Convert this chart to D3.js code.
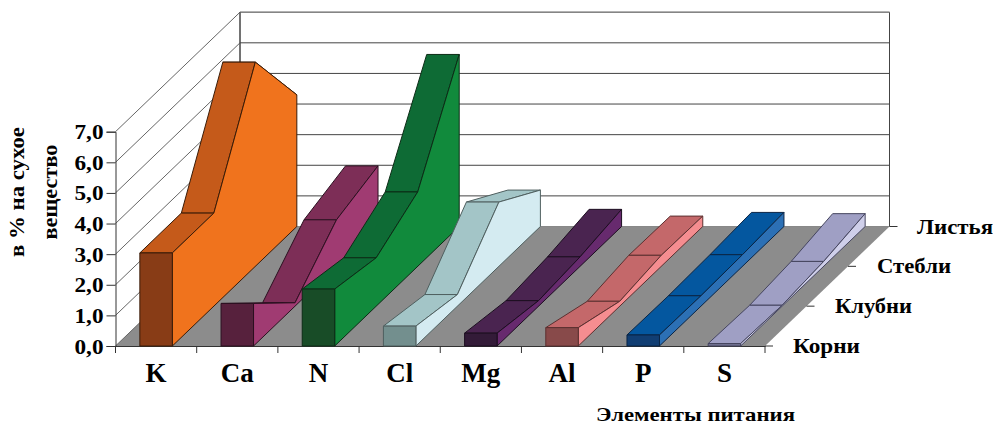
<!DOCTYPE html>
<html>
<head>
<meta charset="utf-8">
<script src="https://cdn.jsdelivr.net/npm/d3@7"></script>
<style>
  body { margin: 0; background: #fff; }
  svg { display: block; }
  text { font-family: "Liberation Serif", serif; font-weight: bold; fill: #000; }
</style>
</head>
<body>
<svg id="chart"></svg>
<script>
const categories = ["K", "Ca", "N", "Cl", "Mg", "Al", "P", "S"];
const seriesNames = ["Корни", "Клубни", "Стебли", "Листья"];

const korni  = [3.04, 1.39, 1.86, 0.65, 0.42, 0.60, 0.36, 0.08];
const klubni = [3.04, 0.11, 1.58, 0.38, 0.18, 0.16, 0.34, 0.03];
const stebli = [6.67, 1.52, 2.43, 2.10, 0.31, 0.36, 0.38, 0.16];
const listya = [4.30, 1.98, 5.62, 1.19, 0.56, 0.34, 0.46, 0.42];
const seriesValues = [korni, klubni, stebli, listya];

const yTicks = [0, 1, 2, 3, 4, 5, 6, 7];

// top, front and side shade of each element
const topColors   = ["#c55a1a", "#7d2e57", "#0e6b35", "#a3c5c7", "#4a2450", "#c4686a", "#04579f", "#9f9fc4"];
const frontColors = ["#883c16", "#57213d", "#184c27", "#738f8e", "#331b38", "#884a4a", "#113e73", "#717190"];
const sideColors  = ["#f0731d", "#a03b72", "#118a3c", "#d4ebf1", "#672a6e", "#f58d90", "#2c70b5", "#cfcfea"];
const edgeColors  = ["#3a1c08", "#2c1020", "#0c2c16", "#4f5f5f", "#1c0e20", "#5c3030", "#0a2545", "#45455f"];

const svgWidth = 993;
const svgHeight = 424;

const svg = d3.select("#chart")
  .attr("width", svgWidth)
  .attr("height", svgHeight);

const xScale = d3.scaleBand()
  .domain(categories)
  .range([115.5, 765])
  .paddingInner(0.6)
  .paddingOuter(0.3);

const yScale = d3.scaleLinear()
  .domain([0, 7])
  .range([346, 131.7]);

// depth moves a point up and to the right
const depthX = d3.scalePoint().domain(seriesNames).range([0, 124.5]);
const depthY = d3.scalePoint().domain(seriesNames).range([0, -119.5]);

const x0 = xScale.range()[0];
const x1 = xScale.range()[1];
const y0 = yScale(0);
const y7 = yScale(7);
const backName = seriesNames[seriesNames.length - 1];
const bx = depthX(backName);
const by = depthY(backName);
const line = pts => "M" + pts.map(p => p.join(",")).join("L") + "Z";

// walls
svg.append("path")
  .attr("d", line([[x0 + bx, y7 + by], [x1 + bx, y7 + by], [x1 + bx, y0 + by], [x0 + bx, y0 + by]]))
  .attr("fill", "#fff")
  .attr("stroke", "#444")
  .attr("stroke-width", 1);

// floor
svg.append("path")
  .attr("d", line([[x0, y0], [x0 + bx, y0 + by], [x1 + bx, y0 + by], [x1, y0]]))
  .attr("fill", "#8c8c8c");

// gridlines
yTicks.forEach(t => {
  svg.append("line")
    .attr("x1", x0).attr("y1", yScale(t))
    .attr("x2", x0 + bx).attr("y2", yScale(t) + by)
    .attr("stroke", "#666");
  svg.append("line")
    .attr("x1", x0 + bx).attr("y1", yScale(t) + by)
    .attr("x2", x1 + bx).attr("y2", yScale(t) + by)
    .attr("stroke", t === 7 || t === 0 ? "#888" : "#444");
});
svg.append("line")
  .attr("x1", x0 + bx).attr("y1", y7 + by)
  .attr("x2", x0 + bx).attr("y2", y0 + by)
  .attr("stroke", "#444");

// axes
const yAxis = d3.axisLeft(yScale)
  .tickValues(yTicks)
  .tickSize(9)
  .tickPadding(3)
  .tickFormat(d => d3.format(".1f")(d).replace(".", ","));

const yAxisG = svg.append("g")
  .attr("transform", `translate(${x0},0)`)
  .call(yAxis);
yAxisG.select(".domain").attr("stroke", "#333");
yAxisG.selectAll("line").attr("stroke", "#333");
yAxisG.selectAll("text")
  .style("font-size", "22px")
  .attr("textLength", 29)
  .attr("lengthAdjust", "spacingAndGlyphs");

const xAxis = d3.axisBottom(xScale).tickSize(0).tickPadding(17);
const xAxisG = svg.append("g")
  .attr("transform", `translate(0,${y0})`)
  .call(xAxis);
xAxisG.select(".domain").attr("stroke", "#333");
xAxisG.selectAll("text").style("font-size", "27px");

// tick marks sit between the categories
d3.range(categories.length + 1).forEach(i => {
  const x = x0 + (x1 - x0) * i / categories.length;
  svg.append("line")
    .attr("x1", x).attr("y1", y0)
    .attr("x2", x).attr("y2", y0 + 7)
    .attr("stroke", "#333");
});

// depth axis
const depthLabelX = [793, 835, 877, 917];
const depthLabelWidth = [67, 77, 74, 76];
seriesNames.forEach((name, i) => {
  const x = x1 + depthX(name);
  const y = y0 + depthY(name);
  svg.append("line")
    .attr("x1", x).attr("y1", y)
    .attr("x2", x + 8).attr("y2", y)
    .attr("stroke", "#333");
  svg.append("text")
    .attr("x", depthLabelX[i])
    .attr("y", y + 7)
    .attr("textLength", depthLabelWidth[i])
    .attr("lengthAdjust", "spacingAndGlyphs")
    .style("font-size", "21px")
    .text(name);
});

// ribbons, left to right, so the nearer ones cover the others
categories.forEach((cat, c) => {
  const left = xScale(cat);
  const right = left + xScale.bandwidth();
  const pt = (x, s) => [x + depthX(seriesNames[s]), yScale(seriesValues[s][c]) + depthY(seriesNames[s])];
  const g = svg.append("g")
    .attr("stroke", edgeColors[c])
    .attr("stroke-width", 1)
    .attr("stroke-linejoin", "round");

  // top faces, back one first
  d3.range(seriesNames.length - 2, -1, -1).forEach(s => {
    g.append("path")
      .attr("d", line([pt(left, s), pt(right, s), pt(right, s + 1), pt(left, s + 1)]))
      .attr("fill", topColors[c]);
  });

  // right side
  const sideTop = seriesNames.map((n, s) => pt(right, s));
  g.append("path")
    .attr("d", line([...sideTop, [right + bx, y0 + by], [right, y0]]))
    .attr("fill", sideColors[c]);

  // front
  g.append("rect")
    .attr("x", left)
    .attr("y", yScale(korni[c]))
    .attr("width", xScale.bandwidth())
    .attr("height", y0 - yScale(korni[c]))
    .attr("fill", frontColors[c]);
});

// axis titles
svg.append("text")
  .attr("transform", "translate(24,192) rotate(-90)")
  .attr("text-anchor", "middle")
  .attr("textLength", 130)
  .attr("lengthAdjust", "spacingAndGlyphs")
  .style("font-size", "22px")
  .text("в % на сухое");

svg.append("text")
  .attr("transform", "translate(57,192) rotate(-90)")
  .attr("text-anchor", "middle")
  .attr("textLength", 95)
  .attr("lengthAdjust", "spacingAndGlyphs")
  .style("font-size", "22px")
  .text("вещество");

svg.append("text")
  .attr("x", 596)
  .attr("y", 421)
  .attr("textLength", 199)
  .attr("lengthAdjust", "spacingAndGlyphs")
  .style("font-size", "19px")
  .text("Элементы питания");
</script>
</body>
</html>
